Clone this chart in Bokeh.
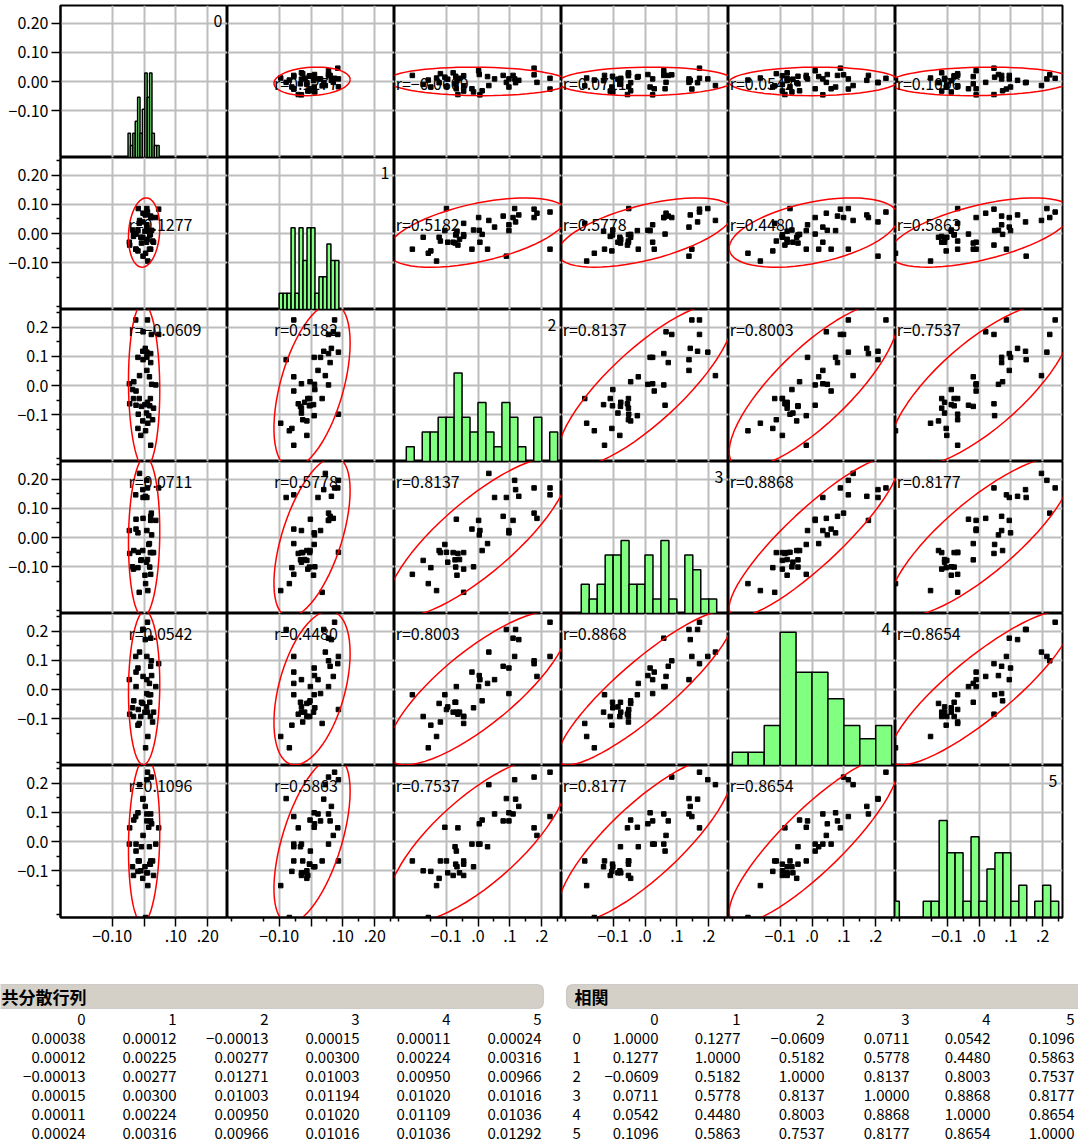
import numpy as np
from bokeh.plotting import figure
from bokeh.layouts import gridplot, column
from bokeh.models import FixedTicker, Range1d, LinearAxis, BoxAnnotation
from bokeh.core.properties import value
from bokeh.embed import file_html
from bokeh.resources import INLINE

# ---------------- data ----------------
var_names = ["0", "1", "2", "3", "4", "5"]

v0 = [-0.014, 0.009, 0.046, 0.011, -0.026, 0.009, -0.003, 0.004, 0.023, -0.025,
      0.037, 0.021, 0.021, -0.025, -0.046, 0.009, -0.019, 0.024, 0.017, 0.015,
      0.030, 0.020, -0.004, -0.018, -0.045, -0.032, -0.010, -0.008, -0.019, 0.008,
      0.018, -0.033, -0.036, 0.021, 0.005, 0.003, 0.012, -0.015, 0.027, 0.011,
      -0.004, -0.003]
v1 = [0.045, 0.086, 0.084, 0.074, -0.054, 0.022, -0.078, 0.064, 0.055, -0.002,
      0.055, 0.060, 0.055, -0.054, -0.030, 0.030, 0.010, 0.011, -0.054, 0.010,
      -0.030, -0.004, -0.013, 0.086, -0.040, -0.003, -0.013, -0.033, -0.060, -0.030,
      -0.005, -0.010, 0.012, -0.054, -0.068, 0.008, -0.095, 0.035, -0.026, -0.020,
      0.040, 0.070]
v2 = [0.034, 0.115, 0.176, 0.226, 0.226, 0.052, 0.089, 0.128, 0.176, -0.068,
      0.002, 0.079, 0.110, -0.019, 0.006, 0.097, 0.097, 0.004, 0.030, -0.104,
      -0.078, -0.045, -0.122, -0.099, -0.063, 0.013, -0.172, -0.072, -0.148, -0.095,
      -0.070, -0.045, -0.014, -0.206, -0.156, -0.066, -0.130, -0.045, -0.118, -0.058,
      0.118, 0.185]
v3 = [0.221, 0.197, 0.171, 0.171, 0.147, 0.138, 0.138, 0.142, 0.084, 0.063,
      0.059, 0.073, 0.059, 0.029, 0.024, 0.024, 0.016, 0.009, -0.021, -0.024,
      -0.052, -0.052, -0.045, -0.051, -0.055, -0.045, -0.079, -0.077, -0.104, -0.085,
      -0.102, -0.109, -0.101, -0.127, -0.159, -0.130, -0.183, -0.189, -0.052, -0.076,
      0.165, 0.066]
v4 = [0.129, 0.114, 0.089, 0.232, 0.114, 0.034, 0.207, 0.172, 0.099, 0.010,
      0.010, 0.080, 0.177, 0.060, 0.034, -0.014, 0.074, 0.048, 0.021, -0.018,
      -0.078, -0.093, -0.048, -0.069, -0.085, -0.039, -0.093, -0.044, -0.123, -0.060,
      -0.044, -0.093, -0.063, -0.018, -0.201, -0.078, -0.162, -0.117, -0.112, -0.078,
      0.207, 0.045]
v5 = [0.196, 0.213, 0.047, 0.239, 0.086, 0.095, 0.148, 0.121, 0.222, -0.033,
      -0.009, 0.071, 0.095, -0.009, -0.009, 0.071, 0.099, 0.061, -0.018, 0.049,
      -0.117, -0.078, -0.127, -0.067, 0.047, 0.074, -0.101, -0.018, -0.103, -0.108,
      -0.078, -0.117, -0.087, -0.067, -0.262, -0.087, -0.152, -0.067, -0.067, -0.108,
      0.146, 0.021]

cov = [
    [0.00038, 0.00012, -0.00013, 0.00015, 0.00011, 0.00024],
    [0.00012, 0.00225, 0.00277, 0.00300, 0.00224, 0.00316],
    [-0.00013, 0.00277, 0.01271, 0.01003, 0.00950, 0.00966],
    [0.00015, 0.00300, 0.01003, 0.01194, 0.01020, 0.01016],
    [0.00011, 0.00224, 0.00950, 0.01020, 0.01109, 0.01036],
    [0.00024, 0.00316, 0.00966, 0.01016, 0.01036, 0.01292],
]
corr = [
    [1.0000, 0.1277, -0.0609, 0.0711, 0.0542, 0.1096],
    [0.1277, 1.0000, 0.5182, 0.5778, 0.4480, 0.5863],
    [-0.0609, 0.5182, 1.0000, 0.8137, 0.8003, 0.7537],
    [0.0711, 0.5778, 0.8137, 1.0000, 0.8868, 0.8177],
    [0.0542, 0.4480, 0.8003, 0.8868, 1.0000, 0.8654],
    [0.1096, 0.5863, 0.7537, 0.8177, 0.8654, 1.0000],
]

tick_values = [-0.1, 0.0, 0.1, 0.2]
y_tick_labels = [
    ["−0.10", "0.00", "0.10", "0.20"],
    ["−0.10", "0.00", "0.10", "0.20"],
    ["−0.1", "0.0", "0.1", "0.2"],
    ["−0.10", "0.00", "0.10", "0.20"],
    ["−0.1", "0.0", "0.1", "0.2"],
    ["−0.1", "0.0", "0.1", "0.2"],
]
x_tick_labels = [
    ["−0.10", "", ".10", ".20"],
    ["−0.10", "", ".10", ".20"],
    ["−0.1", ".0", ".1", ".2"],
    ["−0.1", ".0", ".1", ".2"],
    ["−0.1", ".0", ".1", ".2"],
    ["−0.1", ".0", ".1", ".2"],
]
cov_title = "共分散行列"
corr_title = "相関"

# histogram binning (style)
hist_start = [-0.05, -0.1, -0.225, -0.2, -0.25, -0.275]
hist_width = [0.0075, 0.0125, 0.025, 0.025, 0.05, 0.025]
hist_nbins = [13, 15, 19, 17, 10, 21]
hist_top = [12.6, 9.3, 10.3, 10.4, 11.4, 9.4]

# ---------------- style ----------------
FONT = "Noto Sans CJK JP"
RNG = (-0.262, 0.262)
MINOR = [-0.25, -0.15, -0.05, 0.05, 0.15, 0.25]
CELL_W, CELL_H = 167, 152
K_ELL = 2.52

data = [np.array(v, dtype=float) for v in (v0, v1, v2, v3, v4, v5)]
means = [d.mean() for d in data]
n = 6


def ellipse(i, j, npts=64):
    C = np.array([[cov[j][j], cov[i][j]], [cov[i][j], cov[i][i]]])
    L = np.linalg.cholesky(C)
    t = np.linspace(0, 2 * np.pi, npts)
    pts = L @ np.vstack([np.cos(t), np.sin(t)]) * K_ELL
    return means[j] + pts[0], means[i] + pts[1]


def fmt(v, d):
    return ("%.*f" % (d, v)).replace("-", "−")


rows = []
for i in range(n):
    row = []
    for j in range(n):
        w = CELL_W + (60 if j == 0 else 0) + (2 if j == n - 1 else 0)
        h = CELL_H + (5 if i == 0 else 0) + (38 if i == n - 1 else 0)
        p = figure(width=w, height=h, x_range=Range1d(*RNG), y_range=Range1d(*RNG),
                   x_axis_location=None, y_axis_location=None,
                   output_backend="svg", toolbar_location=None, title=None,
                   min_border=0,
                   min_border_left=60 if j == 0 else 0,
                   min_border_right=2 if j == n - 1 else 0,
                   min_border_top=5 if i == 0 else 0,
                   min_border_bottom=38 if i == n - 1 else 0,
                   outline_line_color="black", outline_line_width=2,
                   background_fill_color="white", border_fill_color="white")
        p.xgrid.ticker = FixedTicker(ticks=tick_values)
        p.ygrid.ticker = FixedTicker(ticks=tick_values)
        p.grid.grid_line_color = "#bdbdbd"
        p.grid.grid_line_width = 2

        if j == 0:
            ax = LinearAxis(ticker=FixedTicker(ticks=tick_values,
                                               minor_ticks=[] if i == 0 else MINOR),
                            major_label_overrides={t: s for t, s in zip(tick_values, y_tick_labels[i])})
            p.add_layout(ax, "left")
        if i == n - 1:
            ax = LinearAxis(ticker=FixedTicker(ticks=tick_values,
                                               minor_ticks=[] if j == 0 else MINOR),
                            major_label_overrides={t: s for t, s in zip(tick_values, x_tick_labels[j])})
            p.add_layout(ax, "below")
        for ax in p.axis:
            ax.axis_line_color = "black"
            ax.axis_line_width = 2
            ax.major_tick_out = 9
            ax.major_tick_in = 0
            ax.minor_tick_out = 4
            ax.minor_tick_in = 0
            ax.major_tick_line_width = 1.5
            ax.minor_tick_line_width = 1.5
            ax.major_tick_line_color = "black"
            ax.minor_tick_line_color = "black"
            ax.major_label_text_font = FONT
            ax.major_label_text_font_size = "16px"
            ax.major_label_text_color = "black"
            ax.major_label_standoff = 3

        if i == j:
            edges = hist_start[i] + hist_width[i] * np.arange(hist_nbins[i] + 1)
            counts, _ = np.histogram(data[i], bins=edges)
            p.extra_y_ranges = {"h": Range1d(0, hist_top[i])}
            p.quad(left=edges[:-1], right=edges[1:], bottom=0, top=counts,
                   y_range_name="h", fill_color="#80ff80", line_color="black",
                   line_width=1.5)
            p.text(x=[RNG[1]], y=[RNG[1]], text=[var_names[i]], text_align="right",
                   text_baseline="top", x_offset=-5, y_offset=9,
                   text_font=value(FONT), text_font_size="16px", text_color="black")
        else:
            ex, ey = ellipse(i, j)
            p.scatter(data[j], data[i], marker="square", size=4.5,
                      color="black")
            p.line(ex, ey, line_color="red", line_width=1.5)
            lx = max(means[j] - K_ELL * np.sqrt(cov[j][j]), RNG[0] + 0.004)
            my = float(data[i].max())
            ly = my if my < 0.2 else 0.245
            p.text(x=[lx], y=[ly], text=["r=" + fmt(corr[i][j], 4)],
                   text_align="left", text_baseline="top", y_offset=3,
                   text_font=value(FONT), text_font_size="16px", text_color="black")
        row.append(p)
    rows.append(row)

grid = gridplot(rows, toolbar_location=None)

# ---------------- tables ----------------
T_TOP = 955
t = figure(width=1078, height=1142 - T_TOP, x_range=Range1d(0, 1078),
           y_range=Range1d(1142, T_TOP), x_axis_location=None, y_axis_location=None,
           output_backend="svg", toolbar_location=None, title=None, min_border=0,
           outline_line_color=None)
t.grid.visible = False

t.add_layout(BoxAnnotation(left=-20, right=543, top=984, bottom=1008,
                           fill_color="#d4d0c8", fill_alpha=1, line_color="#8c8c8c",
                           line_width=1.2, border_radius=6, level="underlay"))
t.add_layout(BoxAnnotation(left=566, right=1100, top=984, bottom=1008,
                           fill_color="#d4d0c8", fill_alpha=1, line_color="#8c8c8c",
                           line_width=1.2, border_radius=6, level="underlay"))
t.text(x=[1], y=[996], text=[cov_title], text_baseline="middle",
       text_font=value(FONT), text_font_size="17px", text_font_style="bold",
       text_color="black")
t.text(x=[574], y=[996], text=[corr_title], text_baseline="middle",
       text_font=value(FONT), text_font_size="17px", text_font_style="bold",
       text_color="black")

left_cols = [85, 176, 268, 359, 450, 541]
right_cols = [658, 740, 824, 909, 990, 1074]
head_y = 1019
row_y = [1038 + 19 * k for k in range(n)]

tx, ty, ts = [], [], []
for c in range(n):
    tx += [left_cols[c], right_cols[c]]
    ty += [head_y, head_y]
    ts += [var_names[c], var_names[c]]
for r in range(n):
    for c in range(n):
        tx += [left_cols[c], right_cols[c]]
        ty += [row_y[r], row_y[r]]
        ts += [fmt(cov[r][c], 5), fmt(corr[r][c], 4)]
t.text(x=tx, y=ty, text=ts, text_align="right", text_baseline="middle",
       text_font=value(FONT), text_font_size="15px", text_color="black")
t.text(x=[572] * n, y=row_y, text=var_names, text_align="left",
       text_baseline="middle", text_font=value(FONT), text_font_size="15px",
       text_color="black")

layout = column(grid, t, spacing=0)
open("out.html", "w").write(file_html(layout, INLINE))
